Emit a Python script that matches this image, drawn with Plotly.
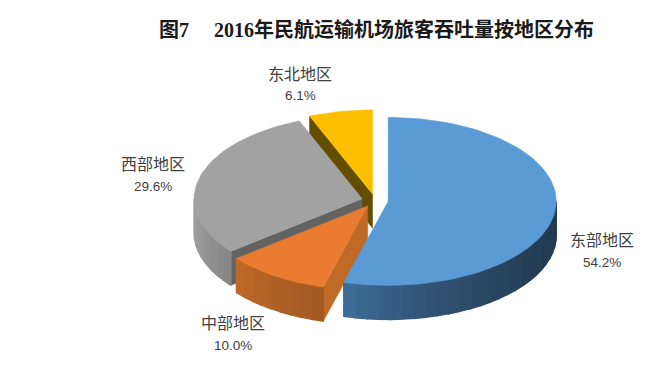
import math
import plotly.graph_objects as go

# ---- data ----
categories = ["东部地区", "中部地区", "西部地区", "东北地区"]
shares = [54.2, 10.0, 29.6, 6.1]
share_labels = ["54.2%", "10.0%", "29.6%", "6.1%"]
title_text = "图7\u3000 2016年民航运输机场旅客吞吐量按地区分布"

# ---- styling ----
top_colors = ["#5b9bd5", "#e97c30", "#a2a2a2", "#fcbf00"]
face_colors = [None, "#bf6a27", "#636363", "#654d00"]
wall_left = ["#40709f", "#c06a28", "#a0a0a0", "#000000"]   # colour where wall is at left end
wall_right = ["#233a50", "#a35a22", "#858585", "#000000"]  # colour where wall is at right end
label_pos = [(602, 239, 262), (233, 322, 345), (153, 163, 186), (300, 73, 95)]

W, H = 664, 367
CX, CY, RX, RY, DEPTH, EXPLODE = 375, 200.5, 168, 84, 34, 13.3


def hex_rgb(c):
    return tuple(int(c[i:i + 2], 16) for i in (1, 3, 5))


def mix(a, b, t):
    a, b = hex_rgb(a), hex_rgb(b)
    return "rgb(%d,%d,%d)" % tuple(round(a[i] + (b[i] - a[i]) * t) for i in range(3))


fig = go.Figure()


def poly(xs, ys, color, width=0.6):
    fig.add_trace(go.Scatter(x=xs, y=ys, mode="lines", fill="toself", fillcolor=color,
                             line=dict(color=color, width=width), hoverinfo="skip",
                             showlegend=False))


total = sum(shares)
spans = []
a = 0.0
for v in shares:
    spans.append((a, a + v / total * 360))
    a += v / total * 360

for i in [3, 2, 1, 0]:
    a0, a1 = spans[i]
    mid = math.radians((a0 + a1) / 2)
    ax = CX + EXPLODE * math.sin(mid)
    ay = CY - EXPLODE * RY / RX * math.cos(mid)

    def pt(deg):
        r = math.radians(deg)
        return ax + RX * math.sin(r), ay - RY * math.cos(r)

    # radial cut face on the slice's first edge
    if face_colors[i]:
        ex, ey = pt(a0)
        poly([ax, ex, ex, ax, ax], [ay, ey, ey + DEPTH, ay + DEPTH, ay], face_colors[i])

    # outer wall on the front half, in bands for the shading
    w0, w1 = max(a0, 90), min(a1, 270)
    if w1 > w0:
        n = max(4, int((w1 - w0) / 4))
        xl, xr = pt(min(w1, 270))[0], pt(w0)[0]
        for k in range(n):
            b0 = w0 + (w1 - w0) * k / n
            b1 = w0 + (w1 - w0) * (k + 1) / n
            steps = [b0 + (b1 - b0) * j / 5 for j in range(6)]
            pts = [pt(s) for s in steps]
            xs = [p[0] for p in pts] + [p[0] for p in pts[::-1]]
            ys = [p[1] for p in pts] + [p[1] + DEPTH for p in pts[::-1]]
            t = ((pts[0][0] + pts[-1][0]) / 2 - xl) / max(1, xr - xl)
            poly(xs + xs[:1], ys + ys[:1], mix(wall_left[i], wall_right[i], t ** 0.7), 1.5)

    # top surface
    n = int((a1 - a0) / 2) + 2
    pts = [pt(a0 + (a1 - a0) * j / (n - 1)) for j in range(n)]
    poly([ax] + [p[0] for p in pts] + [ax], [ay] + [p[1] for p in pts] + [ay], top_colors[i])

for name, pct, (x, y1, y2) in zip(categories, share_labels, label_pos):
    fig.add_annotation(x=x, y=y1, text=name, showarrow=False,
                       font=dict(family="Noto Sans CJK SC", size=16, color="#404040"))
    fig.add_annotation(x=x, y=y2, text=pct, showarrow=False,
                       font=dict(family="Liberation Sans", size=13.5, color="#404040"))

fig.add_annotation(x=376, y=29, text="<b>%s</b>" % title_text, showarrow=False,
                   font=dict(family="Liberation Serif, Noto Sans CJK SC", size=20, color="#1a1a1a"))

fig.update_layout(width=W, height=H, margin=dict(l=0, r=0, t=0, b=0),
                  paper_bgcolor="white", plot_bgcolor="white",
                  xaxis=dict(range=[0, W], visible=False, fixedrange=True),
                  yaxis=dict(range=[H, 0], visible=False, fixedrange=True))
fig.write_html("out.html", config={"displayModeBar": False},
               post_script="document.body.style.margin='0';")
